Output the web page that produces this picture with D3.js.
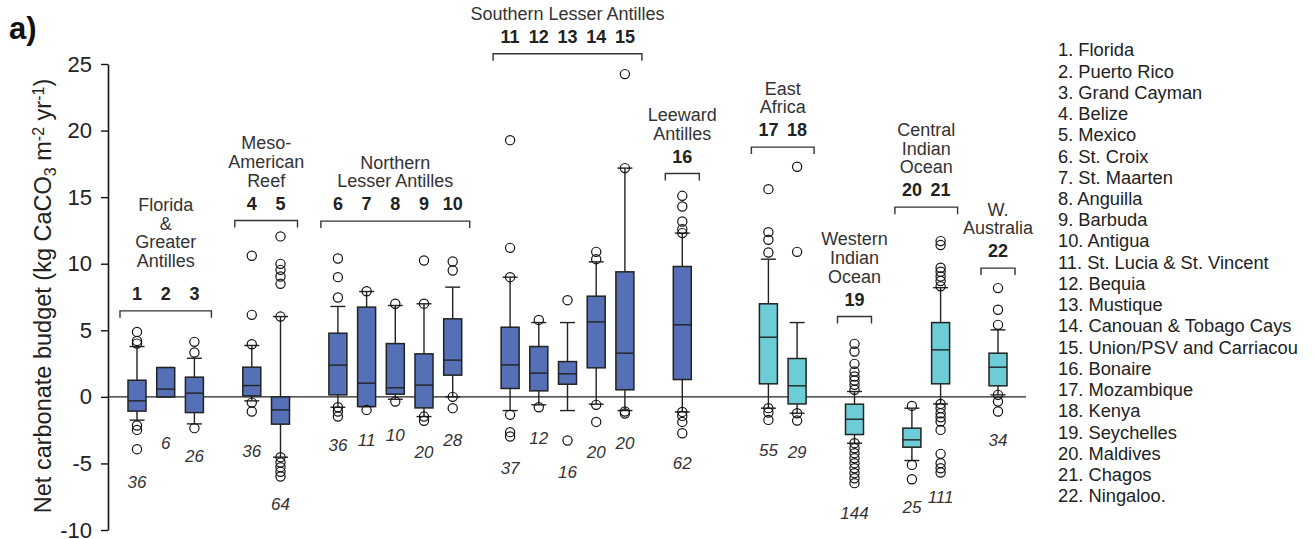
<!DOCTYPE html>
<html>
<head>
<meta charset="utf-8">
<script src="https://cdn.jsdelivr.net/npm/d3@7"></script>
<style>
  body { margin: 0; background: #fff; }
  svg text { font-family: Arial, "Liberation Sans", Helvetica, sans-serif; }
</style>
</head>
<body>
<svg id="chart" width="1314" height="539"></svg>
<script>
// site names for the key on the right
var siteNames = ["Florida", "Puerto Rico", "Grand Cayman", "Belize", "Mexico", "St. Croix",
    "St. Maarten", "Anguilla", "Barbuda", "Antigua", "St. Lucia & St. Vincent", "Bequia",
    "Mustique", "Canouan & Tobago Cays", "Union/PSV and Carriacou", "Bonaire", "Mozambique",
    "Kenya", "Seychelles", "Maldives", "Chagos", "Ningaloo."];

// box stats per site (1..22)
var q1 = [-1.07, 0, -1.18, 0.07, -2.05, 0.15, -0.73, 0.2, -0.83, 1.63, 0.63, 0.45, 0.95, 2.18, 0.53, 1.3, 0.98, -0.53, -2.83, -3.78, 0.98, 0.83];
var median = [-0.3, 0.58, 0.28, 0.85, -0.98, 2.38, 1.03, 0.68, 0.88, 2.76, 2.4, 1.78, 1.73, 5.63, 3.28, 5.41, 4.48, 0.83, -1.68, -3.23, 3.53, 2.23];
var q3 = [1.25, 2.2, 1.48, 2.23, 0, 4.78, 6.74, 4.0, 3.23, 5.86, 5.23, 3.78, 2.65, 7.56, 9.39, 9.79, 6.99, 2.88, -0.55, -2.35, 5.58, 3.28];
var whiskLo = [-1.75, 0, -2.03, -0.3, -4.53, -0.78, -0.73, -0.18, -1.48, 0, -1.03, -0.6, -1.03, -0.55, -1.03, -1.13, -0.85, -1.23, -3.48, -4.78, -0.53, 0.15];
var whiskHi = [3.78, 2.2, 2.9, 3.86, 6.03, 6.79, 7.91, 6.86, 6.99, 8.24, 8.99, 5.58, 5.58, 10.14, 17.18, 12.3, 10.34, 5.58, 0.4, -0.85, 8.2, 5.03];
var outliers = [
    [4.88, 4.2, 4.0, -2.15, -2.48, -3.93],
    [],
    [4.13, 3.33, -2.35],
    [10.6, 6.16, 3.95, -0.43, -1.1],
    [12.05, 9.99, 9.54, 9.04, 8.49, 6.03, -4.53, -4.93, -5.28, -5.63, -5.98],
    [10.39, 8.99, 7.46, -0.78, -1.1, -1.48],
    [7.93, -0.98],
    [6.99, -0.35],
    [10.24, 7.0, -1.48, -1.8],
    [10.17, 9.49, 0, -0.85],
    [19.28, 11.19, 8.99, -1.35, -2.65, -2.98],
    [5.78, -0.78],
    [7.26, -3.28],
    [10.89, 10.34, -0.6, -1.88],
    [24.24, 17.18, -1.1, -1.25],
    [15.1, 14.3, 13.17, 12.6, 12.3, -1.13, -1.43, -1.88, -2.73],
    [15.6, 12.37, 11.8, 10.84, -0.85, -1.18, -1.73],
    [17.28, 10.89, -1.23, -1.78],
    [3.98, 3.41, 2.48, 1.9, 1.53, 1.23, 0.9, 0.53, -3.48, -3.86, -4.23, -4.61, -4.98, -5.36, -5.73, -6.11, -6.48],
    [-0.68, -5.11, -6.19],
    [11.7, 11.4, 9.7, 9.4, 9.04, 8.7, 8.3, -0.53, -0.85, -1.23, -1.53, -1.85, -2.48, -4.28, -4.98, -5.36, -5.68],
    [8.17, 6.54, 5.41, 0.15, -0.35, -1.1]
];
// sample sizes and the level (kg) the n label sits at
var nCounts = [36, 6, 26, 36, 64, 36, 11, 10, 20, 28, 37, 12, 16, 20, 20, 62, 55, 29, 144, 25, 111, 34];
var nLabelAt = [-6.4, -3.48, -4.43, -4.1, -8.04, -3.6, -3.28, -2.88, -4.18, -3.28, -5.36, -3.1, -5.61, -4.16, -3.48, -4.98, -3.98, -4.18, -8.74, -8.29, -7.49, -3.23];

// regions
var groupLabels = [["Florida", "&", "Greater", "Antilles"], ["Meso-", "American", "Reef"],
    ["Northern", "Lesser Antilles"], ["Southern Lesser Antilles"], ["Leeward", "Antilles"],
    ["East", "Africa"], ["Western", "Indian", "Ocean"], ["Central", "Indian", "Ocean"], ["W.", "Australia"]];
var groupSites = [[1, 2, 3], [4, 5], [6, 7, 8, 9, 10], [11, 12, 13, 14, 15], [16], [17, 18], [19], [20, 21], [22]];
var groupBasin = ["Caribbean", "Caribbean", "Caribbean", "Caribbean", "Caribbean",
    "Indian Ocean", "Indian Ocean", "Indian Ocean", "Indian Ocean"];
var bracketAt = [6.46, 13.25, 13.2, 25.77, 16.78, 18.76, 6.03, 14.25, 9.67];

var yTicks = [-10, -5, 0, 5, 10, 15, 20, 25];

var svg = d3.select("#chart");
var axisX = 108;

// slot index per site: one empty slot between groups, two between basins
var slotOf = {}, slot = 0;
groupSites.forEach(function (g, i) {
    if (i > 0) slot += (groupBasin[i] != groupBasin[i - 1]) ? 2 : 1;
    g.forEach(function (s) { slot += 1; slotOf[s] = slot; });
});

var x = d3.scaleLinear().domain([1, slot]).range([137, 998]);
var y = d3.scaleLinear().domain([-10, 25]).range([530, 64]);
var color = d3.scaleOrdinal().domain(["Caribbean", "Indian Ocean"]).range(["#5570b6", "#6dcdd6"]);

var basinOf = {};
groupSites.forEach(function (g, i) { g.forEach(function (s) { basinOf[s] = groupBasin[i]; }); });

// y axis
var yAxis = svg.append("g")
    .attr("transform", "translate(" + axisX + ",0)")
    .call(d3.axisLeft(y).tickValues(yTicks).tickSize(7).tickSizeOuter(0).tickPadding(9)
        .tickFormat(function (d) { return String(d); }));
yAxis.select(".domain").attr("stroke", "#111").attr("stroke-width", 1.6);
yAxis.selectAll(".tick line").attr("stroke", "#111").attr("stroke-width", 1.4);
yAxis.selectAll(".tick text").attr("font-size", 22).attr("fill", "#222")
    .style("font-family", "Arial, 'Liberation Sans', sans-serif");

// zero line
svg.append("line")
    .attr("x1", axisX).attr("x2", 1026)
    .attr("y1", y(0)).attr("y2", y(0))
    .attr("stroke", "#222").attr("stroke-width", 1.3);

// y label
var yl = svg.append("text")
    .attr("transform", "translate(51,296) rotate(-90)")
    .attr("text-anchor", "middle")
    .attr("font-size", 23.5)
    .attr("fill", "#222");
yl.append("tspan").text("Net carbonate budget (kg CaCO");
yl.append("tspan").attr("font-size", 16).attr("dy", 5).text("3");
yl.append("tspan").attr("dy", -5).text(" m");
yl.append("tspan").attr("font-size", 16).attr("dy", -7).text("-2");
yl.append("tspan").attr("dy", 7).text(" yr");
yl.append("tspan").attr("font-size", 16).attr("dy", -7).text("-1");
yl.append("tspan").attr("dy", 7).text(")");

svg.append("text")
    .attr("x", 9).attr("y", 39)
    .attr("font-size", 31).attr("font-weight", "bold").attr("fill", "#111")
    .text("a)");

// boxes
var sites = d3.range(1, 23);
var boxW = 18, capW = 15;
var g = svg.append("g");

var box = g.selectAll(".site").data(sites).enter().append("g").attr("class", "site");

box.append("line")
    .attr("x1", function (d) { return x(slotOf[d]); })
    .attr("x2", function (d) { return x(slotOf[d]); })
    .attr("y1", function (d) { return y(whiskHi[d - 1]); })
    .attr("y2", function (d) { return y(whiskLo[d - 1]); })
    .attr("stroke", "#222").attr("stroke-width", 1.4);

[whiskHi, whiskLo].forEach(function (arr) {
    box.append("line")
        .attr("x1", function (d) { return x(slotOf[d]) - capW / 2; })
        .attr("x2", function (d) { return x(slotOf[d]) + capW / 2; })
        .attr("y1", function (d) { return y(arr[d - 1]); })
        .attr("y2", function (d) { return y(arr[d - 1]); })
        .attr("stroke", "#222").attr("stroke-width", 1.4);
});

box.append("rect")
    .attr("x", function (d) { return x(slotOf[d]) - boxW / 2; })
    .attr("y", function (d) { return y(q3[d - 1]); })
    .attr("width", boxW)
    .attr("height", function (d) { return y(q1[d - 1]) - y(q3[d - 1]); })
    .attr("fill", function (d) { return color(basinOf[d]); })
    .attr("stroke", "#222").attr("stroke-width", 1.5);

box.append("line")
    .attr("x1", function (d) { return x(slotOf[d]) - boxW / 2; })
    .attr("x2", function (d) { return x(slotOf[d]) + boxW / 2; })
    .attr("y1", function (d) { return y(median[d - 1]); })
    .attr("y2", function (d) { return y(median[d - 1]); })
    .attr("stroke", "#222").attr("stroke-width", 1.4);

box.selectAll("circle")
    .data(function (d) { return outliers[d - 1].map(function (v) { return { s: d, v: v }; }); })
    .enter().append("circle")
    .attr("cx", function (d) { return x(slotOf[d.s]); })
    .attr("cy", function (d) { return y(d.v); })
    .attr("r", 4.6)
    .attr("fill", "none")
    .attr("stroke", "#111").attr("stroke-width", 1.2);

box.append("text")
    .attr("x", function (d) { return x(slotOf[d]); })
    .attr("y", function (d) { return y(nLabelAt[d - 1]); })
    .attr("dy", "0.35em")
    .attr("text-anchor", "middle")
    .attr("font-size", 17).attr("font-style", "italic").attr("fill", "#333")
    .text(function (d) { return nCounts[d - 1]; });

// region brackets and labels
groupSites.forEach(function (gs, i) {
    var x0 = x(slotOf[gs[0]]) - 17, x1 = x(slotOf[gs[gs.length - 1]]) + 17;
    var by = y(bracketAt[i]);
    var cx = (x0 + x1) / 2;
    svg.append("path")
        .attr("d", "M" + x0 + "," + (by + 7) + "V" + by + "H" + x1 + "V" + (by + 7))
        .attr("fill", "none").attr("stroke", "#333").attr("stroke-width", 1.4);
    gs.forEach(function (s) {
        svg.append("text")
            .attr("x", x(slotOf[s])).attr("y", by - 17).attr("dy", "0.35em")
            .attr("text-anchor", "middle")
            .attr("font-size", 18).attr("font-weight", "bold").attr("fill", "#222")
            .text(s);
    });
    var lines = groupLabels[i];
    // the Florida block sits a bit higher above its numbers
    var gap = lines.length > 3 ? 33 : 23;
    lines.forEach(function (t, k) {
        svg.append("text")
            .attr("x", cx).attr("y", by - 17 - gap - (lines.length - 1 - k) * 18.8).attr("dy", "0.35em")
            .attr("text-anchor", "middle")
            .attr("font-size", 18).attr("fill", "#333")
            .text(t);
    });
});

// key
svg.append("g").selectAll("text").data(siteNames).enter().append("text")
    .attr("x", 1058)
    .attr("y", function (d, i) { return 50 + i * 21.23; })
    .attr("dy", "0.35em")
    .attr("font-size", 18.3).attr("fill", "#222")
    .text(function (d, i) { return (i + 1) + ". " + d; });
</script>
</body>
</html>
